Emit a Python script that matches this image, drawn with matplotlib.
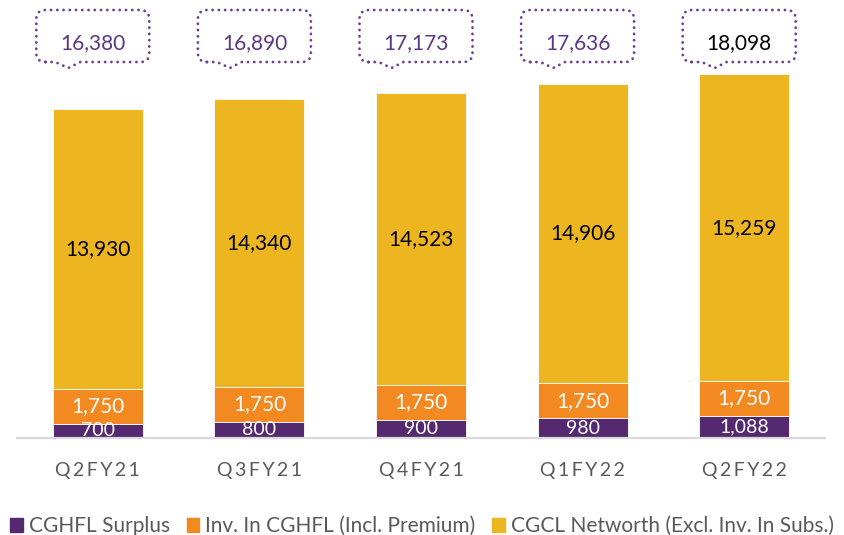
import matplotlib
matplotlib.use("Agg")
import matplotlib.pyplot as plt
from matplotlib.patches import Patch, PathPatch
from matplotlib.path import Path

plt.rcParams["font.family"] = ["Lato", "DejaVu Sans"]

quarters = ["Q2FY21", "Q3FY21", "Q4FY21", "Q1FY22", "Q2FY22"]
surplus = [700, 800, 900, 980, 1088]
investment = [1750, 1750, 1750, 1750, 1750]
networth = [13930, 14340, 14523, 14906, 15259]
totals = [16380, 16890, 17173, 17636, 18098]

series_names = [
    "CGHFL Surplus",
    "Inv. In CGHFL (Incl. Premium)",
    "CGCL Networth (Excl. Inv. In Subs.)",
]
PURPLE = "#54296f"
ORANGE = "#f38a21"
YELLOW = "#edb620"
GREY_TEXT = "#595959"
CALLOUT = "#6a3d96"

W, H = 844, 535
fig = plt.figure(figsize=(W / 100, H / 100), dpi=100)
ax = fig.add_axes([17 / W, 97 / H, 808 / W, 438 / H])

x = range(len(quarters))
bar_w = 0.556
ax.bar(x, surplus, width=bar_w, color=PURPLE, edgecolor="white", linewidth=0.6)
ax.bar(x, investment, width=bar_w, bottom=surplus, color=ORANGE, edgecolor="white", linewidth=0.6)
base2 = [a + b for a, b in zip(surplus, investment)]
ax.bar(x, networth, width=bar_w, bottom=base2, color=YELLOW, edgecolor="white", linewidth=0.6)

for i in x:
    ax.text(i, surplus[i] / 2, f"{surplus[i]:,}", ha="center", va="center",
            color="white", fontsize=14, clip_on=True)
    ax.text(i, surplus[i] + investment[i] / 2, f"{investment[i]:,}", ha="center",
            va="center", color="white", fontsize=15)
    ax.text(i, base2[i] + networth[i] / 2, f"{networth[i]:,}", ha="center",
            va="center", color="black", fontsize=15)

ax.set_xlim(-0.5, 4.5)
ax.set_ylim(0, 21800)
ax.set_xticks(list(x))
# letter-spaced quarter labels
ax.set_xticklabels(["\u2009".join(q) for q in quarters], fontsize=14, color=GREY_TEXT)
ax.tick_params(axis="x", length=0, pad=17)
ax.set_yticks([])
for side in ("left", "right", "top"):
    ax.spines[side].set_visible(False)
ax.spines["bottom"].set_color("#d9d9d9")
ax.spines["bottom"].set_linewidth(1.6)


def callout_path(left, bottom, width, height, r=9):
    right, top = left + width, bottom + height
    n0, tip, n1 = left + 19, left + 32, left + 44
    verts = [
        (left + r, bottom), (n0, bottom), (tip, bottom - 6), (n1, bottom),
        (right - r, bottom), (right, bottom), (right, bottom + r),
        (right, top - r), (right, top), (right - r, top),
        (left + r, top), (left, top), (left, top - r),
        (left, bottom + r), (left, bottom), (left + r, bottom),
        (left + r, bottom),
    ]
    codes = [Path.MOVETO, Path.LINETO, Path.LINETO, Path.LINETO,
             Path.LINETO, Path.CURVE3, Path.CURVE3,
             Path.LINETO, Path.CURVE3, Path.CURVE3,
             Path.LINETO, Path.CURVE3, Path.CURVE3,
             Path.LINETO, Path.CURVE3, Path.CURVE3,
             Path.CLOSEPOLY]
    return Path([(vx / W, vy / H) for vx, vy in verts], codes)


# total callouts above each stacked bar
to_fig = ax.transData + fig.transFigure.inverted()
for i in x:
    cx = to_fig.transform((i, 0))[0] * W - 5
    box_w, box_h = 113, 52
    path = callout_path(cx - box_w / 2, H - 62, box_w, box_h)
    fig.add_artist(PathPatch(path, transform=fig.transFigure, facecolor="none",
                             edgecolor=CALLOUT, linewidth=2.0,
                             linestyle=(0, (0.05, 2.2)), capstyle="round"))
    fig.text(cx / W, (H - 43) / H, f"{totals[i]:,}", ha="center", va="center",
             fontsize=15, color="black" if i == len(quarters) - 1 else "#5b3787")

handles = [Patch(color=c) for c in (PURPLE, ORANGE, YELLOW)]
fig.legend(handles, series_names, loc="lower center", bbox_to_anchor=(0.5, -0.018),
           ncol=3, frameon=False, fontsize=15, handlelength=0.6, handleheight=0.6,
           handletextpad=0.3, columnspacing=0.8, labelcolor=GREY_TEXT,
           borderaxespad=0.0)

fig.savefig("out.png", dpi=100)
